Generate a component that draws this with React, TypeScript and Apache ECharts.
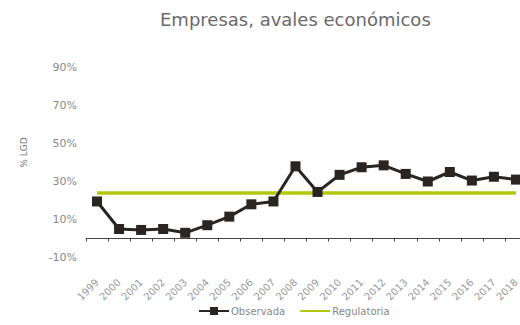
import React, { useEffect, useRef } from "react";
import * as echarts from "echarts";

const years = ["1999","2000","2001","2002","2003","2004","2005","2006","2007","2008","2009","2010","2011","2012","2013","2014","2015","2016","2017","2018"];
const observada = [19.5, 5, 4.5, 5, 3, 7, 11.5, 18, 19.5, 38, 24.5, 33.5, 37.5, 38.5, 34, 30, 35, 30.5, 32.5, 31];
const regulatoria = [24, 24, 24, 24, 24, 24, 24, 24, 24, 24, 24, 24, 24, 24, 24, 24, 24, 24, 24, 24];
const yTicks = { min: -10, max: 90, interval: 20 };

const FONT = "DejaVu Sans";

export default function App() {
  const ref = useRef<HTMLDivElement>(null);
  useEffect(() => {
    if (!ref.current) return;
    const chart = echarts.init(ref.current, null, { renderer: "svg" });
    chart.setOption({
      animation: false,
      backgroundColor: "#ffffff",
      title: {
        text: "Empresas, avales económicos",
        left: 155,
        top: 5,
        textStyle: { fontFamily: FONT, fontSize: 18, fontWeight: "normal", color: "#6a6a6a" },
      },
      grid: { left: 86, width: 441, top: 67.5, bottom: 67.5, outerBoundsMode: "none", containLabel: false },
      legend: {
        left: 193,
        top: 301,
        itemWidth: 30,
        itemHeight: 10,
        itemGap: 14,
        textStyle: { fontFamily: FONT, fontSize: 10, color: "#888", padding: [0, 0, 0, -3] },
        data: [
          { name: "Observada" },
          { name: "Regulatoria", itemStyle: { opacity: 0 } },
        ],
      },
      xAxis: {
        type: "category",
        data: years,
        boundaryGap: true,
        axisLine: { onZero: true, lineStyle: { color: "#444", width: 1 } },
        axisTick: { show: true, length: 3, lineStyle: { color: "#444" } },
        axisLabel: {
          rotate: 45,
          interval: 0,
          fontFamily: FONT,
          fontSize: 10,
          color: "#999",
          margin: 23,
        },
      },
      yAxis: {
        type: "value",
        min: yTicks.min,
        max: yTicks.max,
        interval: yTicks.interval,
        name: "% LGD",
        nameLocation: "middle",
        nameGap: 58,
        nameTextStyle: { fontFamily: FONT, fontSize: 9, color: "#777", padding: [0, 0, 0, 20] },
        axisLine: { show: false },
        axisTick: { show: false },
        splitLine: { show: false },
        axisLabel: {
          formatter: "{value}%",
          fontFamily: FONT,
          fontSize: 11,
          color: "#888",
          margin: 9,
        },
      },
      series: [
        {
          name: "Observada",
          type: "line",
          data: observada,
          symbol: "rect",
          symbolSize: 10,
          itemStyle: { color: "#2a2522" },
          lineStyle: { color: "#2a2522", width: 3 },
          z: 3,
        },
        {
          name: "Regulatoria",
          type: "line",
          data: regulatoria,
          symbol: "none",
          itemStyle: { color: "#b3c70c" },
          lineStyle: { color: "#b3c70c", width: 3.5 },
          z: 2,
        },
      ],
    });
    return () => chart.dispose();
  }, []);
  return <div ref={ref} style={{ position: "absolute", left: 0, top: 0, width: 520, height: 325 }} />;
}
